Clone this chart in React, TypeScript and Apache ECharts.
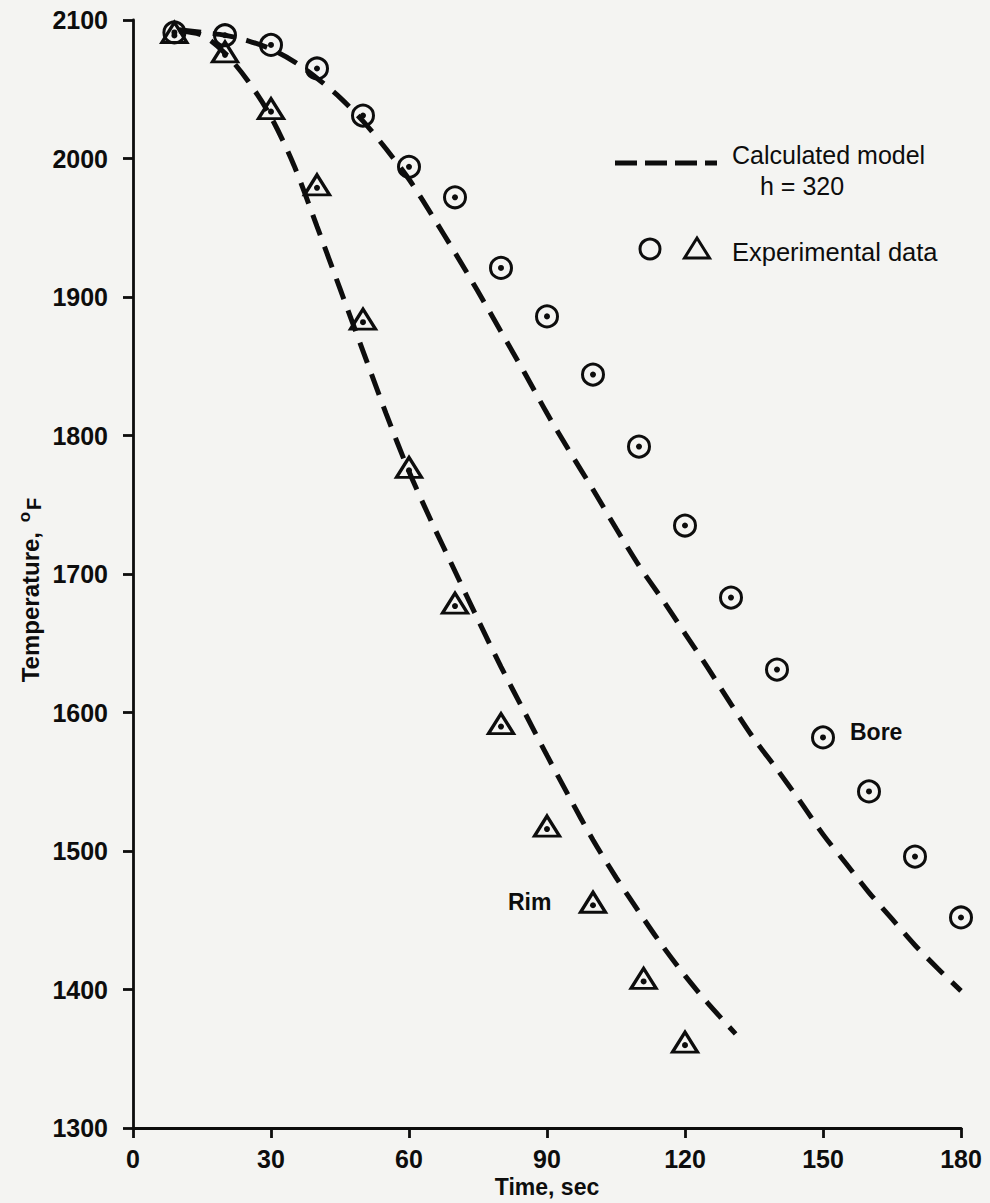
import React, { useEffect, useRef } from "react";
import * as echarts from "echarts";

// Experimental data (Bore = circles, Rim = triangles)
const boreExpTime = [9, 20, 30, 40, 50, 60, 70, 80, 90, 100, 110, 120, 130, 140, 150, 160, 170, 180];
const boreExpTemp = [2091, 2089, 2082, 2065, 2031, 1994, 1972, 1921, 1886, 1844, 1792, 1735, 1683, 1631, 1582, 1543, 1496, 1452];
const rimExpTime = [9, 20, 30, 40, 50, 60, 70, 80, 90, 100, 111, 120];
const rimExpTemp = [2091, 2077, 2036, 1981, 1884, 1777, 1679, 1592, 1518, 1463, 1408, 1362];

// Calculated model curves (h = 320)
const boreModelTime = [10, 15, 20, 25, 30, 35, 40, 45, 50, 55, 60, 65, 70, 75, 80, 85, 90, 95, 100, 105, 110, 115, 120, 125, 130, 135, 140, 145, 150, 155, 160, 165, 170, 175, 180];
const boreModelTemp = [2093, 2091, 2089, 2085, 2079, 2070, 2058, 2044, 2027, 2007, 1985, 1959, 1932, 1904, 1875, 1846, 1816, 1788, 1761, 1733, 1706, 1682, 1657, 1632, 1606, 1581, 1559, 1536, 1512, 1491, 1470, 1451, 1432, 1415, 1399];
const rimModelTime = [10, 15, 20, 25, 30, 35, 40, 45, 50, 55, 60, 65, 70, 75, 80, 85, 90, 95, 100, 105, 110, 115, 120, 125, 131];
const rimModelTemp = [2092, 2089, 2076, 2056, 2030, 1995, 1951, 1906, 1861, 1816, 1774, 1737, 1702, 1667, 1633, 1601, 1569, 1538, 1508, 1481, 1456, 1432, 1410, 1390, 1368];

const xTicks = { min: 0, max: 180, interval: 30 };
const yTicks = { min: 1300, max: 2100, interval: 100 };

const INK = "#0d0d0d";
const BG = "#f4f4f2";
const FONT = "'Liberation Sans', Arial, Helvetica, sans-serif";

export default function App() {
  const ref = useRef<HTMLDivElement>(null);

  useEffect(() => {
    document.body.style.margin = "0";
    document.body.style.background = BG;
    if (!ref.current) return;
    const chart = echarts.init(ref.current, null, { renderer: "svg" });

    const pairs = (xs: number[], ys: number[]) => xs.map((x, i) => [x, ys[i]]);

    const axisCommon = {
      axisLine: { show: true, onZero: false, lineStyle: { color: INK, width: 2.8 } },
      axisTick: { show: true, inside: false, length: 10, lineStyle: { color: INK, width: 2.8 } },
      splitLine: { show: false },
      minorTick: { show: false },
    };

    chart.setOption({
      animation: false,
      backgroundColor: BG,
      textStyle: { fontFamily: FONT },
      grid: { left: 133, right: 29, top: 20, bottom: 75, containLabel: false, outerBoundsMode: "none" },
      xAxis: {
        type: "value",
        ...xTicks,
        ...axisCommon,
        axisLabel: { color: INK, fontSize: 25, fontWeight: "bold", fontFamily: FONT, margin: 18, formatter: (v: number) => String(v) },
        name: "Time, sec",
        nameLocation: "middle",
        nameGap: 40,
        nameTextStyle: { color: INK, fontSize: 23, fontWeight: "bold", fontFamily: FONT },
      },
      yAxis: {
        type: "value",
        ...yTicks,
        ...axisCommon,
        axisLabel: { color: INK, fontSize: 25, fontWeight: "bold", fontFamily: FONT, margin: 25, formatter: (v: number) => String(v) },
      },
      graphic: [
        {
          type: "text",
          x: 30,
          y: 590,
          rotation: Math.PI / 2,
          style: {
            text: "Temperature, {sup|o}{sub|F}",
            fill: INK,
            font: `bold 24px ${FONT}`,
            align: "center",
            verticalAlign: "middle",
            rich: {
              sup: { fontSize: 17, fontWeight: "bold", fontFamily: FONT, fill: INK, padding: [0, 2, 12, 3] },
              sub: { fontSize: 20, fontWeight: "bold", fontFamily: FONT, fill: INK, padding: [8, 0, 0, 0] },
            },
          },
        },
        // legend
        {
          type: "line",
          shape: { x1: 615, y1: 163, x2: 717, y2: 163 },
          style: { stroke: INK, lineWidth: 5, lineDash: [22, 8] },
        },
        {
          type: "text",
          x: 732,
          y: 155,
          style: { text: "Calculated model", fill: INK, font: `25px ${FONT}`, verticalAlign: "middle" },
        },
        {
          type: "text",
          x: 760,
          y: 186,
          style: { text: "h = 320", fill: INK, font: `25px ${FONT}`, verticalAlign: "middle" },
        },
        {
          type: "circle",
          shape: { cx: 650, cy: 249, r: 10 },
          style: { fill: "none", stroke: INK, lineWidth: 3 },
        },
        {
          type: "polygon",
          shape: { points: [[684.5, 258], [709.5, 258], [697, 238]] },
          style: { fill: "none", stroke: INK, lineWidth: 3 },
        },
        {
          type: "text",
          x: 732,
          y: 252,
          style: { text: "Experimental data", fill: INK, font: `25.5px ${FONT}`, verticalAlign: "middle" },
        },
        // annotations
        {
          type: "text",
          x: 850,
          y: 732,
          style: { text: "Bore", fill: INK, font: `bold 23px ${FONT}`, verticalAlign: "middle" },
        },
        {
          type: "text",
          x: 508,
          y: 902,
          style: { text: "Rim", fill: INK, font: `bold 23px ${FONT}`, verticalAlign: "middle" },
        },
      ],
      series: [
        {
          name: "Rim model",
          type: "line",
          data: pairs(rimModelTime, rimModelTemp),
          smooth: 0.3,
          showSymbol: false,
          symbol: "none",
          lineStyle: { color: INK, width: 5, type: [22, 12] },
          z: 2,
        },
        {
          name: "Bore model",
          type: "line",
          data: pairs(boreModelTime, boreModelTemp),
          smooth: 0.3,
          showSymbol: false,
          symbol: "none",
          lineStyle: { color: INK, width: 5, type: [22, 12] },
          z: 2,
        },
        {
          name: "Bore",
          type: "scatter",
          data: pairs(boreExpTime, boreExpTemp),
          symbol: "circle",
          symbolSize: 21,
          itemStyle: { color: "rgba(0,0,0,0)", borderColor: INK, borderWidth: 3, opacity: 1 },
          z: 3,
        },
        {
          name: "Bore dot",
          type: "scatter",
          data: pairs(boreExpTime, boreExpTemp),
          symbol: "circle",
          symbolSize: 6,
          itemStyle: { color: INK, opacity: 1 },
          z: 4,
        },
        {
          name: "Rim",
          type: "scatter",
          data: pairs(rimExpTime, rimExpTemp),
          symbol: "triangle",
          symbolSize: [25, 20],
          itemStyle: { color: "rgba(0,0,0,0)", borderColor: INK, borderWidth: 3.2, opacity: 1 },
          z: 3,
        },
        {
          name: "Rim dot",
          type: "scatter",
          data: pairs(rimExpTime, rimExpTemp),
          symbol: "circle",
          symbolSize: 6,
          symbolOffset: [0, 3],
          itemStyle: { color: INK, opacity: 1 },
          z: 4,
        },
      ],
    });

    return () => chart.dispose();
  }, []);

  return (
    <div
      ref={ref}
      style={{ position: "absolute", left: 0, top: 0, width: 990, height: 1203, background: BG }}
    />
  );
}
